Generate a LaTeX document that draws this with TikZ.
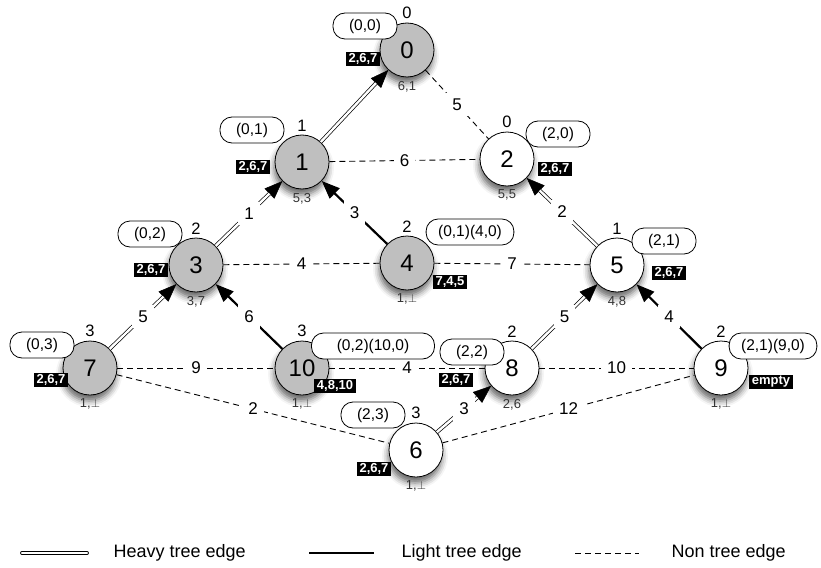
\documentclass[tikz,border=0pt]{standalone}
\usepackage{fontspec}
\setmainfont{Liberation Sans}
\usetikzlibrary{arrows.meta, positioning, shadows.blur}

\begin{document}
\begin{tikzpicture}[
  x = 1pt, y = -1pt,
  vtx/.style     = {circle, draw=black, line width=0.8pt, minimum size=54pt, inner sep=0pt,
                    font=\fontsize{24}{24}\selectfont,
                    blur shadow={shadow xshift=-1pt, shadow yshift=-6pt, shadow blur radius=6pt, shadow opacity=60}},
  intree/.style  = {vtx, fill=black!25},
  outtree/.style = {vtx, fill=white},
  pill/.style    = {rectangle, rounded corners=12pt, draw=black, line width=0.8pt, fill=white,
                    minimum height=26pt, minimum width=64pt, inner xsep=12pt,
                    font=\fontsize{15.5}{15.5}\selectfont},
  tag/.style     = {rectangle, fill=black, text=white, inner xsep=2.5pt, inner ysep=1.5pt,
                    font=\fontsize{13}{13}\selectfont\bfseries},
  lvl/.style     = {font=\fontsize{16.5}{16.5}\selectfont},
  info/.style    = {text=black!80, font=\fontsize{13}{13}\selectfont},
  wt/.style      = {fill=white, inner sep=6pt, font=\fontsize{17}{17}\selectfont},
  tip/.style     = {-{Triangle[length=18pt, width=14pt]}, line width=0.5pt},
  heavy/.style   = {double, double distance=2.4pt, line width=0.7pt, shorten >=18pt},
  light/.style   = {-{Triangle[length=18pt, width=14pt]}, line width=2.2pt},
  nontree/.style = {dash pattern=on 6pt off 4pt, line width=0.9pt},
  legend/.style  = {anchor=west, font=\fontsize{18}{18}\selectfont},
]
  \useasboundingbox (0,0) rectangle (821,567);

  % vertices
  \node[intree]  (n0)  at (407,50)  [label={[lvl]above:0}, label={[info]below:{6,1}}] {0};
  \node[intree]  (n1)  at (302,162) [label={[lvl]above:1}, label={[info]below:{5,3}}] {1};
  \node[outtree] (n2)  at (507,159) [label={[lvl]above:0}, label={[info]below:{5,5}}] {2};
  \node[intree]  (n3)  at (196,265) [label={[lvl]above:2}, label={[info]below:{3,7}}] {3};
  \node[intree]  (n4)  at (407,263) [label={[lvl]above:2}, label={[info]below:{1,$\perp$}}] {4};
  \node[outtree] (n5)  at (617,265) [label={[lvl]above:1}, label={[info]below:{4,8}}] {5};
  \node[intree]  (n7)  at (90,368)  [label={[lvl]above:3}, label={[info]below:{1,$\perp$}}] {7};
  \node[intree]  (n10) at (302,368) [label={[lvl]above:3}, label={[info]below:{1,$\perp$}}] {10};
  \node[outtree] (n8)  at (512,368) [label={[lvl]above:2}, label={[info]below:{2,6}}] {8};
  \node[outtree] (n9)  at (721,368) [label={[lvl]above:2}, label={[info]below:{1,$\perp$}}] {9};
  \node[outtree] (n6)  at (416,450) [label={[lvl]above:3}, label={[info]below:{1,$\perp$}}] {6};

  % heavy tree edges
  \draw[tip]   (n1) -- (n0);
  \draw[heavy] (n1) -- (n0);
  \draw[tip]   (n3) -- (n1);
  \draw[heavy] (n3) -- node[wt] {1} (n1);
  \draw[tip]   (n5) -- (n2);
  \draw[heavy] (n5) -- node[wt] {2} (n2);
  \draw[tip]   (n7) -- (n3);
  \draw[heavy] (n7) -- node[wt] {5} (n3);
  \draw[tip]   (n8) -- (n5);
  \draw[heavy] (n8) -- node[wt] {5} (n5);
  \draw[tip]   (n6) -- (n8);
  \draw[heavy] (n6) -- node[wt] {3} (n8);

  % light tree edges
  \draw[light] (n4)  -- node[wt] {3} (n1);
  \draw[light] (n10) -- node[wt] {6} (n3);
  \draw[light] (n9)  -- node[wt] {4} (n5);

  % non tree edges
  \draw[nontree] (n0)  -- node[wt] {5}  (n2);
  \draw[nontree] (n1)  -- node[wt] {6}  (n2);
  \draw[nontree] (n3)  -- node[wt] {4}  (n4);
  \draw[nontree] (n4)  -- node[wt] {7}  (n5);
  \draw[nontree] (n7)  -- node[wt] {9}  (n10);
  \draw[nontree] (n10) -- node[wt] {4}  (n8);
  \draw[nontree] (n8)  -- node[wt] {10} (n9);
  \draw[nontree] (n7)  -- node[wt] {2}  (n6);
  \draw[nontree] (n6)  -- node[wt] {12} (n9);

  % pairs and lists
  \node[pill] (p0)  at ([shift={(-42,-24)}]n0)  {(0,0)};
  \node[pill] (p1)  at ([shift={(-50,-32)}]n1)  {(0,1)};
  \node[pill] (p2)  at ([shift={(51,-25)}]n2)   {(2,0)};
  \node[pill] (p3)  at ([shift={(-46,-31)}]n3)  {(0,2)};
  \node[pill] (p4)  at ([shift={(63,-31)}]n4)   {(0,1)(4,0)};
  \node[pill] (p5)  at ([shift={(47,-24)}]n5)   {(2,1)};
  \node[pill] (p7)  at ([shift={(-48,-23)}]n7)  {(0,3)};
  \node[pill, minimum width=123pt] (p10) at ([shift={(71,-22)}]n10) {(0,2)(10,0)};
  \node[pill] (p8)  at ([shift={(-40,-16)}]n8)  {(2,2)};
  \node[pill] (p9)  at ([shift={(52,-22)}]n9)   {(2,1)(9,0)};
  \node[pill] (p6)  at ([shift={(-43,-35)}]n6)  {(2,3)};

  \node[tag] (t0)  at ([shift={(-44,9)}]n0)  {2,6,7};
  \node[tag] (t1)  at ([shift={(-49,5)}]n1)  {2,6,7};
  \node[tag] (t2)  at ([shift={(48,10)}]n2)  {2,6,7};
  \node[tag] (t3)  at ([shift={(-45,5)}]n3)  {2,6,7};
  \node[tag] (t4)  at ([shift={(43,19)}]n4)  {7,4,5};
  \node[tag] (t5)  at ([shift={(52,8)}]n5)   {2,6,7};
  \node[tag] (t7)  at ([shift={(-39,12)}]n7) {2,6,7};
  \node[tag] (t10) at ([shift={(33,18)}]n10) {4,8,10};
  \node[tag] (t8)  at ([shift={(-56,12)}]n8) {2,6,7};
  \node[tag] (t9)  at ([shift={(50,14)}]n9)  {empty};
  \node[tag] (t6)  at ([shift={(-42,19)}]n6) {2,6,7};

  % legend
  \coordinate (h1) at (22,553);  \coordinate (h2) at (87,553);
  \coordinate (l1) at (309,553); \coordinate (l2) at (374,553);
  \coordinate (d1) at (575,553); \coordinate (d2) at (639,553);
  \draw[double, double distance=2.4pt, line width=0.7pt, line cap=round] (h1) -- (h2);
  \draw[line width=1.2pt] (l1) -- (l2);
  \draw[nontree] (d1) -- (d2);
  \node[legend] (lh) at (110,553) {Heavy tree edge};
  \node[legend] (ll) at (398,553) {Light tree edge};
  \node[legend] (ln) at (668,553) {Non tree edge};
\end{tikzpicture}
\end{document}
